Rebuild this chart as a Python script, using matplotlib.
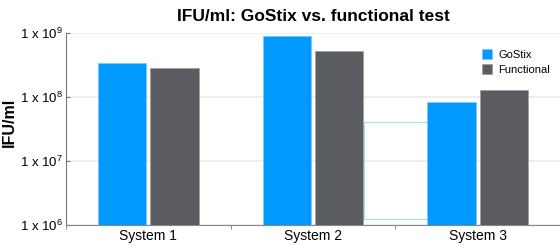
import matplotlib
matplotlib.use("Agg")
import matplotlib.pyplot as plt
import matplotlib.patches as mpatches
import numpy as np

plt.rcParams['font.family'] = ['Liberation Sans', 'DejaVu Sans']
plt.rcParams['mathtext.default'] = 'regular'

systems = ["System 1", "System 2", "System 3"]
gostix = [3.4e8, 8.9e8, 8.3e7]
functional = [2.85e8, 5.2e8, 1.29e8]
series_names = ["GoStix", "Functional"]
colors = ["#0099ff", "#5b5c60"]
edges = ["#7cc8ff", "#a0a0a4"]
exponents = [6, 7, 8, 9]
# faint highlight box seen between System 2 and System 3
box_x = [1.31, 1.70]
box_y = [1.24e6, 4.1e7]

fig = plt.figure(figsize=(5.6, 2.45), dpi=100)
ax = fig.add_axes([66/560, 20/245, 494/560, 192/245])

x = np.arange(len(systems))
w = 0.293
gap = 0.013
ax.bar(x - w/2 - gap, gostix, w, color=colors[0], edgecolor=edges[0], linewidth=0.6,
       label=series_names[0], zorder=3, bottom=1e6)
ax.bar(x + w/2 + gap, functional, w, color=colors[1], edgecolor=edges[1], linewidth=0.6,
       label=series_names[1], zorder=3, bottom=1e6)

ax.add_patch(mpatches.Rectangle((box_x[0], box_y[0]), box_x[1] - box_x[0], box_y[1] - box_y[0],
                                fill=False, edgecolor="#a9dcf5", linewidth=0.8, zorder=2))

ax.set_yscale("log")
ax.set_ylim(1e6, 1e9)
ax.set_xlim(-0.5, 2.5)
ax.set_yticks([10.0**e for e in exponents])
ax.set_yticklabels([r"1 x 10$^{%d}$" % e for e in exponents], fontsize=9.5)
ax.minorticks_off()
ax.yaxis.grid(True, color="#ececec", linewidth=1.2, zorder=0)

ax.set_xticks(x)
ax.set_xticklabels(systems, fontsize=10)
ax.tick_params(axis="x", length=0, pad=3)
ax.set_xticks([-0.5, 0.5, 1.5, 2.5], minor=True)
ax.tick_params(axis="x", which="minor", length=3, color="#777777", direction="out")
ax.tick_params(axis="y", length=3, color="#777777", direction="in", pad=2)

for s in ["top", "right"]:
    ax.spines[s].set_visible(False)
ax.spines["left"].set_color("#777777")
ax.spines["bottom"].set_color("#888888")

fig.text(9/560, 0.5, "IFU/ml", rotation=90, ha="center", va="center",
         fontsize=11.5, fontweight="bold")
ax.set_title("IFU/ml: GoStix vs. functional test", fontsize=12.5, fontweight="bold", pad=9)

ax.legend(loc="upper right", bbox_to_anchor=(1.0, 0.97), frameon=False, fontsize=8,
          handlelength=0.9, handleheight=1.0, handletextpad=0.6, labelspacing=0.4)

fig.savefig("out.png", dpi=100)
